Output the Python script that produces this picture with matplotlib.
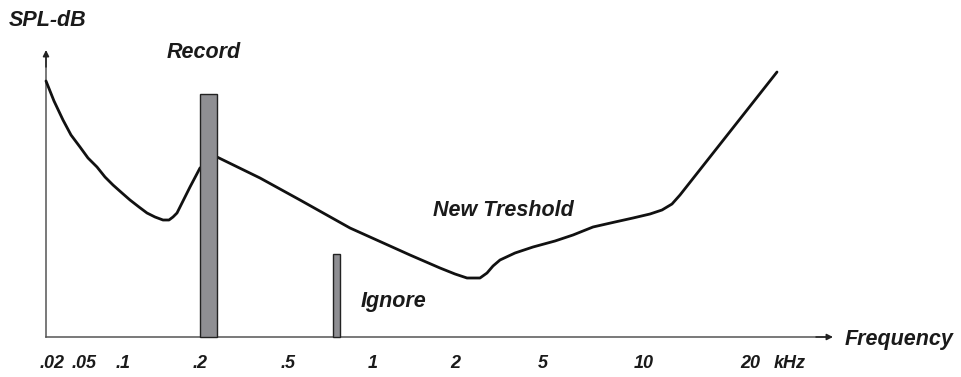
"""
Schematic of a hearing threshold curve (SPL vs frequency) with masking bars.
"""
import matplotlib.pyplot as plt

plt.rcParams['font.family'] = ['Liberation Sans', 'DejaVu Sans']

# threshold curve: horizontal position along the frequency axis, level above the axis
curve_pos = [0, 8, 17, 25, 34, 42, 51, 59, 67, 76, 84, 93, 101, 109, 117, 123,
             127, 131, 134, 139, 144, 154, 171, 214, 254, 304, 364, 394, 409,
             421, 434, 441, 447, 454, 469, 487, 509, 527, 547, 569, 587, 604,
             616, 626, 634, 731]
curve_level = [256, 236, 217, 202, 190, 179, 170, 160, 152, 144, 137, 130, 124,
               120, 117, 117, 120, 124, 130, 140, 150, 169, 180, 159, 137, 109,
               82, 69, 63, 59, 59, 64, 71, 77, 84, 90, 96, 102, 110, 115, 119,
               123, 127, 133, 142, 265]

# bars: position, width, height
bar_names = ['Record', 'Ignore']
bar_pos = [154, 287]
bar_width = [17, 7]
bar_height = [243, 83]

# frequency tick labels and their positions on the axis
tick_labels = ['.02', '.05', '.1', '.2', '.5', '1', '2', '5', '10', '20']
tick_pos = [6, 38, 77, 154, 242, 327, 409, 497, 598, 704]

fig = plt.figure(figsize=(9.61, 3.77), dpi=100)
ax = fig.add_axes([0, 0, 1, 1])
ax.set_xlim(-46, 915)
ax.set_ylim(-40, 337)
ax.axis('off')

axis_color = '#555555'
ax.plot([0, 0], [0, 280], color=axis_color, lw=1.1, zorder=1)
ax.plot([0, 780], [0, 0], color=axis_color, lw=1.1, zorder=1)
ax.annotate('', xy=(0, 287), xytext=(0, 270),
            arrowprops=dict(arrowstyle='-|>', color='#222222', lw=1.1,
                            mutation_scale=9, shrinkA=0, shrinkB=0))
ax.annotate('', xy=(787, 0), xytext=(770, 0),
            arrowprops=dict(arrowstyle='-|>', color='#222222', lw=1.1,
                            mutation_scale=9, shrinkA=0, shrinkB=0))

ax.plot(curve_pos, curve_level, color='#111111', lw=2, zorder=2,
        solid_capstyle='round', solid_joinstyle='round')

ax.bar(bar_pos, bar_height, width=bar_width, align='edge', color='#8f8f93',
       edgecolor='#222222', linewidth=1, zorder=3)

txt = dict(fontsize=15.5, fontweight='bold', fontstyle='italic', color='#1a1a1a')
ax.text(-37, 317, 'SPL-dB', ha='left', va='center', **txt)
ax.text(121, 285, 'Record', ha='left', va='center', **txt)
ax.text(387, 126, 'New Treshold', ha='left', va='center', **txt)
ax.text(315, 35, 'Ignore', ha='left', va='center', **txt)
ax.text(799, -3, 'Frequency', ha='left', va='center', **txt)

tick_txt = dict(fontsize=13, fontweight='bold', fontstyle='italic', color='#1a1a1a')
for lab, p in zip(tick_labels, tick_pos):
    ax.text(p, -26, lab, ha='center', va='center', **tick_txt)
ax.text(744, -26, 'kHz', ha='center', va='center', **tick_txt)

fig.savefig('out.png', dpi=100)
